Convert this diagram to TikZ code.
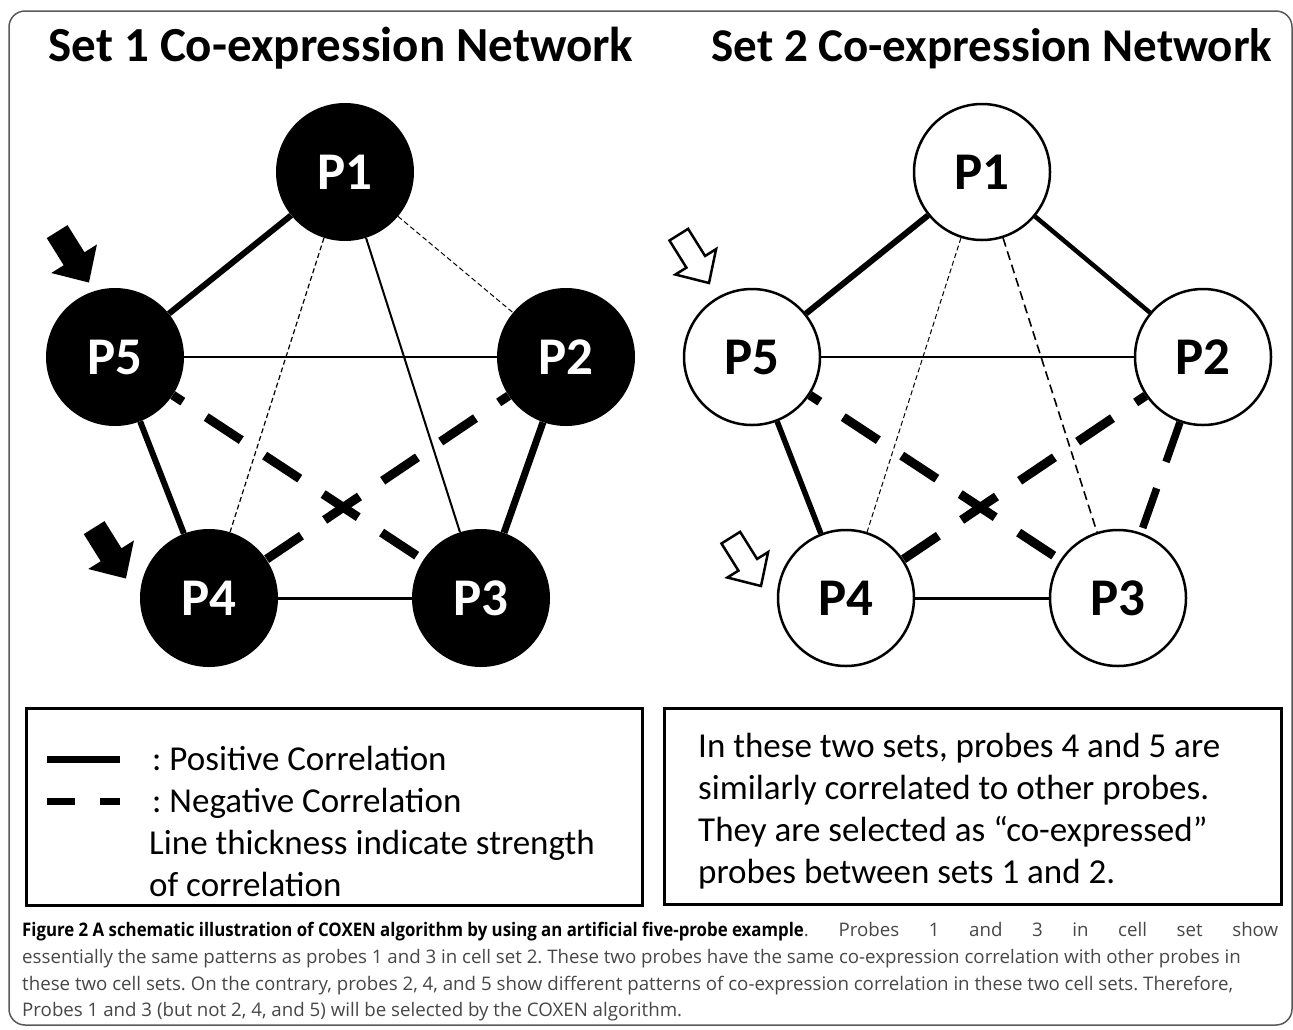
\documentclass[tikz,border=0pt]{standalone}
\usepackage{fontspec}
\setmainfont{Carlito}
\newfontfamily\capfont{Open Sans}
\usepackage{xcolor}
\colorlet{colFrame}{black!65}
\colorlet{colCaption}{black!72}
\usetikzlibrary{positioning}
\frenchspacing

\begin{document}
\begin{tikzpicture}[x=1pt, y=-1pt,
    probeA/.style={circle, fill=black, text=white, minimum size=138pt, inner sep=0pt,
      font=\fontsize{53}{60}\selectfont\bfseries},
    probeB/.style={circle, draw=black, line width=2.5pt, fill=white, minimum size=136pt,
      inner sep=0pt, font=\fontsize{53}{60}\selectfont\bfseries},
    settitle/.style={anchor=base, inner sep=0pt, font=\fontsize{#1}{58}\selectfont\bfseries},
    poscor/.style={line width=#1},
    negcor/.style={line width=#1, dash pattern=on 42pt off 28pt, dash phase=30pt},
    weakneg/.style={line width=#1, dash pattern=on 5pt off 3pt},
    legbox/.style={draw=black, line width=3pt},
    legtext/.style={anchor=base west, inner sep=0pt, font=\fontsize{35}{42}\selectfont},
    captext/.style={anchor=base west, inner sep=0pt, font=\capfont\fontsize{18.7}{27}\selectfont},
    pointer/.pic={
      \filldraw[fill=#1, draw=black, line width=2.5pt, line join=miter]
        (0,0) -- (-25,24) -- (-25,11) -- (-57,11) -- (-57,-11) -- (-25,-11) -- (-25,-24) -- cycle;
    }]
  \useasboundingbox (0,0) rectangle (1293,1029);

  % outer frame
  \draw[colFrame, line width=1.5pt, rounded corners=16pt] (9,11) rectangle (1292,1025);

  % titles
  \node[settitle=49] (title1) at (341,61) {Set 1 Co-expression Network};
  \node[settitle=47] (title2) at (992,61) {Set 2 Co-expression Network};

  % set 1 network
  \node[probeA] (a1) at (345,172) {P1};
  \node[probeA] (a2) at (566,357) {P2};
  \node[probeA] (a3) at (481,598) {P3};
  \node[probeA] (a4) at (209,598) {P4};
  \node[probeA] (a5) at (115,357) {P5};

  \draw[poscor=6] (a1) -- (a5);
  \draw[weakneg=1] (a1) -- (a2);
  \draw[weakneg=1.2] (a1) -- (a4);
  \draw[poscor=2] (a1) -- (a3);
  \draw[poscor=2.5] (a5) -- (a2);
  \draw[negcor=9] (a5) -- (a3);
  \draw[negcor=9] (a2) -- (a4);
  \draw[poscor=6] (a5) -- (a4);
  \draw[poscor=7] (a2) -- (a3);
  \draw[poscor=3] (a4) -- (a3);

  \pic[rotate=-58] at (88,281) {pointer=black};
  \pic[rotate=-58] at (125,577) {pointer=black};

  % set 2 network
  \node[probeB] (b1) at (982,172) {P1};
  \node[probeB] (b2) at (1203,357) {P2};
  \node[probeB] (b3) at (1118,598) {P3};
  \node[probeB] (b4) at (846,598) {P4};
  \node[probeB] (b5) at (752,357) {P5};

  \draw[poscor=6] (b1) -- (b5);
  \draw[poscor=4.5] (b1) -- (b2);
  \draw[weakneg=1] (b1) -- (b4);
  \draw[weakneg=1.6, dash pattern=on 9pt off 5pt] (b1) -- (b3);
  \draw[poscor=2] (b5) -- (b2);
  \draw[negcor=9] (b5) -- (b3);
  \draw[negcor=9] (b2) -- (b4);
  \draw[poscor=5.5] (b5) -- (b4);
  \draw[negcor=7.5, dash phase=0pt] (b2) -- (b3);
  \draw[poscor=3] (b4) -- (b3);

  \pic[rotate=-58] at (709,283) {pointer=white};
  \pic[rotate=-58] at (761,586) {pointer=white};

  % legend
  \draw[legbox] (26,708) rectangle (642,905);
  \coordinate (posA) at (47,759);
  \coordinate (posB) at (120,759);
  \coordinate (negA) at (47,801);
  \coordinate (negB) at (120,801);
  \draw[poscor=7] (posA) -- (posB);
  \draw[line width=7pt, dash pattern=on 28pt off 25pt] (negA) -- (negB);
  \node[legtext] (postext) at (152,770) {: Positive Correlation};
  \node[legtext] (negtext) at (152,812) {: Negative Correlation};
  \node[legtext] (thick1) at (149,854) {Line thickness indicate strength};
  \node[legtext] (thick2) at (149,896) {of correlation};

  % note
  \draw[legbox] (664,708) rectangle (1281,904);
  \node[legtext] (note1) at (698,757) {In these two sets, probes 4 and 5 are};
  \node[legtext] (note2) at (698,799) {similarly correlated to other probes.};
  \node[legtext] (note3) at (698,841) {They are selected as “co-expressed”};
  \node[legtext] (note4) at (698,883) {probes between sets 1 and 2.};

  % caption
  \node[captext] (cap1) at (22,936) {\makebox[1256pt][s]{\scalebox{0.9}[1]{\textbf{Figure 2 A schematic illustration of COXEN algorithm by using an artificial five-probe example}}\textcolor{colCaption}{. Probes 1 and 3 in cell set show}}};
  \node[captext, text=colCaption] (cap2) at (22,963) {essentially the same patterns as probes 1 and 3 in cell set 2. These two probes have the same co-expression correlation with other probes in};
  \node[captext, text=colCaption] (cap3) at (22,990) {these two cell sets. On the contrary, probes 2, 4, and 5 show different patterns of co-expression correlation in these two cell sets. Therefore,};
  \node[captext, text=colCaption] (cap4) at (22,1016) {Probes 1 and 3 (but not 2, 4, and 5) will be selected by the COXEN algorithm.};
\end{tikzpicture}
\end{document}
